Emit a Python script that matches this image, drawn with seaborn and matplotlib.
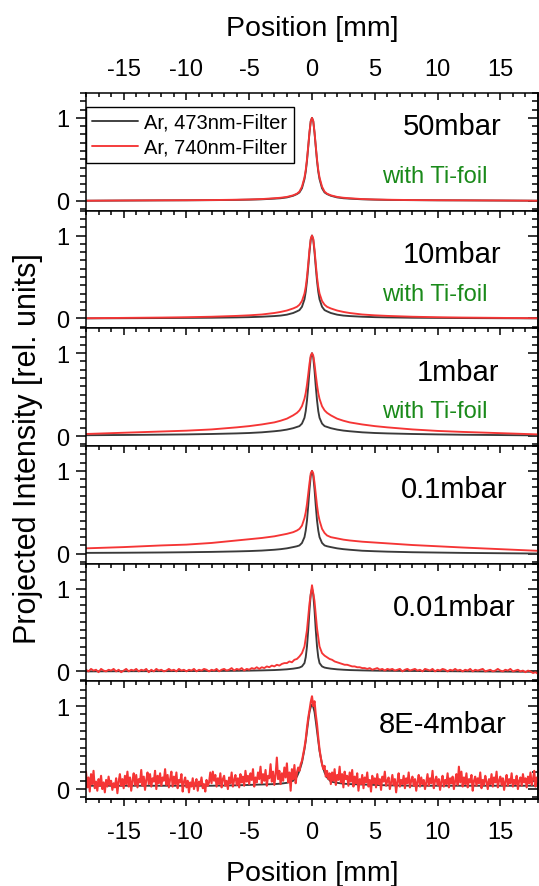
import numpy as np
import pandas as pd
import matplotlib
matplotlib.use("Agg")
import matplotlib.pyplot as plt
from matplotlib.ticker import MultipleLocator, FixedLocator
import seaborn as sns

# ---------------- data ----------------
x_smooth = [-18, -15, -12, -10, -8, -6, -5, -4, -3, -2.5, -2, -1.5, -1.2, -1, -0.8, -0.6, -0.5, -0.4,
            -0.3, -0.2, -0.1, 0, 0.1, 0.2, 0.3, 0.4, 0.5, 0.6, 0.8, 1, 1.2, 1.5, 2, 2.5, 3, 4, 5, 6,
            8, 10, 12, 15, 18]

black_50 = [0.0, 0.002, 0.004, 0.005, 0.007, 0.01, 0.013, 0.017, 0.025, 0.03, 0.04, 0.06, 0.08, 0.1, 0.15,
            0.26, 0.35, 0.48, 0.65, 0.82, 0.96, 1.0, 0.96, 0.82, 0.65, 0.48, 0.35, 0.26, 0.15, 0.1, 0.08,
            0.06, 0.04, 0.03, 0.025, 0.017, 0.013, 0.01, 0.007, 0.005, 0.004, 0.002, 0.0]
red_50 = [0.0, 0.003, 0.005, 0.006, 0.008, 0.012, 0.015, 0.02, 0.03, 0.036, 0.046, 0.065, 0.085, 0.11, 0.17,
          0.28, 0.37, 0.5, 0.66, 0.83, 0.96, 1.0, 0.96, 0.83, 0.66, 0.5, 0.37, 0.28, 0.17, 0.11, 0.085,
          0.065, 0.046, 0.036, 0.03, 0.02, 0.015, 0.012, 0.008, 0.006, 0.005, 0.003, 0.0]

black_10 = [0.0, 0.002, 0.004, 0.006, 0.008, 0.012, 0.015, 0.02, 0.028, 0.034, 0.045, 0.065, 0.085, 0.1, 0.14,
            0.23, 0.32, 0.45, 0.62, 0.8, 0.95, 1.0, 0.95, 0.8, 0.62, 0.45, 0.32, 0.23, 0.14, 0.1, 0.085,
            0.065, 0.045, 0.034, 0.028, 0.02, 0.015, 0.012, 0.008, 0.006, 0.004, 0.002, 0.0]
red_10 = [0.002, 0.006, 0.01, 0.014, 0.02, 0.03, 0.037, 0.047, 0.065, 0.078, 0.095, 0.12, 0.14, 0.165, 0.21,
          0.3, 0.38, 0.5, 0.66, 0.83, 0.96, 1.0, 0.96, 0.83, 0.66, 0.5, 0.38, 0.3, 0.21, 0.165, 0.14,
          0.12, 0.095, 0.078, 0.065, 0.047, 0.037, 0.03, 0.02, 0.014, 0.01, 0.006, 0.002]

black_1 = [0.01, 0.013, 0.017, 0.02, 0.025, 0.032, 0.037, 0.045, 0.058, 0.066, 0.078, 0.095, 0.11, 0.12, 0.15,
           0.22, 0.3, 0.43, 0.6, 0.79, 0.95, 1.0, 0.95, 0.79, 0.6, 0.43, 0.3, 0.22, 0.15, 0.12, 0.11,
           0.095, 0.078, 0.066, 0.058, 0.045, 0.037, 0.032, 0.025, 0.02, 0.016, 0.012, 0.008]
red_1 = [0.025, 0.04, 0.055, 0.065, 0.08, 0.105, 0.12, 0.14, 0.165, 0.185, 0.21, 0.25, 0.28, 0.31, 0.36,
         0.45, 0.52, 0.62, 0.74, 0.87, 0.97, 1.0, 0.97, 0.87, 0.74, 0.62, 0.52, 0.45, 0.36, 0.31, 0.28,
         0.25, 0.21, 0.185, 0.165, 0.14, 0.12, 0.105, 0.08, 0.062, 0.05, 0.035, 0.02]

black_01 = [0.01, 0.012, 0.015, 0.018, 0.022, 0.028, 0.032, 0.038, 0.048, 0.055, 0.065, 0.08, 0.09, 0.1, 0.13,
            0.2, 0.28, 0.4, 0.58, 0.78, 0.94, 1.0, 0.94, 0.78, 0.58, 0.4, 0.28, 0.2, 0.13, 0.1, 0.09,
            0.08, 0.065, 0.055, 0.048, 0.036, 0.03, 0.025, 0.018, 0.014, 0.01, 0.006, 0.002]
red_01 = [0.065, 0.08, 0.1, 0.11, 0.13, 0.16, 0.175, 0.19, 0.21, 0.225, 0.24, 0.26, 0.28, 0.3, 0.34,
          0.43, 0.5, 0.6, 0.73, 0.86, 0.97, 1.0, 0.97, 0.86, 0.72, 0.58, 0.47, 0.4, 0.3, 0.25, 0.22,
          0.2, 0.185, 0.17, 0.16, 0.145, 0.135, 0.125, 0.105, 0.09, 0.075, 0.055, 0.035]

black_001 = [0.0, 0.002, 0.003, 0.004, 0.005, 0.007, 0.009, 0.012, 0.016, 0.02, 0.025, 0.033, 0.04, 0.046, 0.06,
             0.1, 0.17, 0.3, 0.5, 0.74, 0.93, 1.0, 0.93, 0.74, 0.5, 0.3, 0.17, 0.1, 0.06, 0.046, 0.04,
             0.033, 0.025, 0.02, 0.016, 0.012, 0.009, 0.007, 0.005, 0.003, 0.001, -0.002, -0.005]

black_8e4 = [0.04, 0.04, 0.04, 0.04, 0.04, 0.045, 0.05, 0.055, 0.06, 0.065, 0.075, 0.1, 0.15, 0.22, 0.32,
             0.48, 0.58, 0.7, 0.82, 0.93, 0.99, 1.02, 0.99, 0.93, 0.82, 0.7, 0.58, 0.46, 0.3, 0.2, 0.14,
             0.09, 0.075, 0.065, 0.06, 0.055, 0.05, 0.045, 0.04, 0.04, 0.04, 0.04, 0.04]

# noisy 0.01 mbar trace, sampled every 0.2 mm from -18 to 18
x_noisy_02 = np.round(np.arange(-18.0, 18.0001, 0.2), 1)
red_001 = [0.02, 0.0, 0.03, 0.01, 0.02, -0.01, 0.03, 0.01, 0.0, 0.02,
           0.01, 0.03, 0.0, 0.02, -0.01, 0.01, 0.03, 0.0, 0.02, 0.01,
           0.03, 0.0, 0.02, 0.01, 0.03, -0.01, 0.02, 0.0, 0.03, 0.01,
           0.02, 0.0, 0.01, 0.03, 0.01, 0.02, 0.0, 0.03, 0.01, 0.02,
           0.0, 0.02, 0.01, 0.03, 0.0, 0.02, 0.01, 0.03, 0.02, 0.0,
           0.02, 0.01, 0.03, 0.0, 0.02, 0.03, 0.01, 0.02, 0.04, 0.01,
           0.03, 0.02, 0.04, 0.01, 0.03, 0.02, 0.04, 0.03, 0.05, 0.03,
           0.05, 0.04, 0.06, 0.05, 0.07, 0.06, 0.08, 0.07, 0.09, 0.1,
           0.1, 0.12, 0.11, 0.14, 0.15, 0.18, 0.22, 0.3, 0.5, 0.82,
           1.04,
           0.85, 0.52, 0.3, 0.22, 0.19, 0.17, 0.15, 0.14, 0.12, 0.11,
           0.1, 0.09, 0.08, 0.08, 0.07, 0.06, 0.06, 0.05, 0.05, 0.04,
           0.04, 0.03, 0.04, 0.02, 0.03, 0.04, 0.02, 0.03, 0.01, 0.03,
           0.02, 0.03, 0.01, 0.02, 0.03, 0.0, 0.02, 0.03, 0.01, 0.02,
           0.03, 0.01, 0.02, 0.0, 0.03, 0.02, 0.01, 0.03, 0.0, 0.02,
           0.01, 0.03, 0.02, 0.0, 0.02, 0.01, 0.03, 0.01, 0.02, 0.0,
           0.02, 0.01, 0.03, 0.0, 0.02, 0.01, 0.02, 0.03, 0.0, 0.01,
           0.02, 0.0, 0.01, 0.03, 0.01, 0.0, 0.02, 0.01, 0.03, 0.0,
           0.01, 0.02, 0.0, 0.01, -0.01, 0.01, 0.0, -0.02, -0.01, -0.03]

# noisy 8E-4 mbar trace, sampled every 0.1 mm from -18 to 18
x_noisy_01 = np.round(np.arange(-18.0, 18.0001, 0.1), 1)
red_8e4 = [0.21, 0.02, 0.14, -0.03, 0.18, 0.06, 0.22, 0.01, 0.09, -0.02,
           0.12, 0.04, 0.16, 0.0, 0.08, -0.04, 0.11, 0.03, 0.15, 0.05,
           0.1, -0.01, 0.07, 0.02, 0.13, -0.05, 0.09, 0.18, 0.04, 0.12,
           0.01, 0.16, 0.06, 0.21, 0.03, 0.14, -0.02, 0.1, 0.19, 0.05,
           0.17, 0.02, 0.12, 0.08, 0.23, 0.04, 0.15, -0.01, 0.11, 0.2,
           0.06, 0.18, 0.03, 0.13, 0.09, 0.22, 0.0, 0.16, 0.07, 0.19,
           0.04, 0.14, 0.1, 0.24, 0.05, 0.17, 0.02, 0.12, 0.21, 0.03,
           0.15, 0.06, 0.2, 0.01, 0.11, 0.08, 0.18, -0.03, 0.09, 0.14,
           0.02, 0.1, -0.04, 0.08, 0.03, 0.13, 0.0, 0.07, 0.12, -0.02,
           0.09, 0.05, 0.14, 0.01, 0.06, -0.03, 0.11, 0.04, 0.08, 0.2,
           0.07, 0.21, 0.1, 0.17, 0.03, 0.13, 0.06, 0.19, 0.02, 0.12,
           0.16, 0.04, 0.1, 0.0, 0.14, 0.07, 0.2, 0.03, 0.11, 0.17,
           0.05, 0.13, 0.02, 0.18, 0.08, 0.15, 0.04, 0.22, 0.09, 0.16,
           0.06, 0.19, 0.11, 0.24, 0.03, 0.14, 0.08, 0.2, 0.12, 0.27,
           0.07, 0.18, 0.1, 0.23, 0.04, 0.16, 0.13, 0.3, 0.09, 0.21,
           0.05, 0.17, 0.38, 0.12, 0.22, 0.06, 0.19, 0.1, 0.26, 0.14,
           0.31, 0.08, 0.2, -0.02, 0.24, 0.12, 0.29, 0.07, 0.2, 0.26,
           0.22, 0.3, 0.34, 0.42, 0.5, 0.6, 0.74, 0.86, 0.95, 1.05,
           1.12,
           1.0, 1.06, 0.9, 0.78, 0.62, 0.48, 0.38, 0.3, 0.24, 0.28,
           0.15, 0.22, 0.12, 0.19, 0.06, 0.2, 0.1, 0.24, 0.05, 0.17,
           0.11, 0.27, 0.08, 0.18, 0.02, 0.21, 0.12, 0.16, 0.04, 0.2,
           0.09, 0.23, 0.03, 0.15, 0.07, 0.19, -0.02, 0.12, 0.06, 0.17,
           0.01, 0.14, 0.08, 0.2, 0.03, 0.11, -0.03, 0.16, 0.07, 0.13,
           0.02, 0.18, 0.06, 0.12, -0.01, 0.15, 0.09, 0.21, 0.04, 0.1,
           0.14, 0.0, 0.08, 0.17, 0.05, 0.12, -0.04, 0.09, 0.19, 0.03,
           0.11, 0.06, 0.16, 0.01, 0.13, 0.07, 0.2, 0.02, 0.1, 0.15,
           0.04, 0.12, -0.02, 0.09, 0.17, 0.03, 0.14, 0.06, 0.11, 0.0,
           0.08, 0.18, 0.04, 0.13, 0.07, 0.22, 0.01, 0.1, 0.15, 0.05,
           0.12, -0.01, 0.09, 0.16, 0.03, 0.11, 0.06, 0.19, 0.02, 0.13,
           0.07, 0.15, 0.0, 0.1, 0.18, 0.05, 0.27, 0.08, 0.21, 0.03,
           0.14, 0.06, 0.19, 0.02, 0.12, 0.08, 0.17, -0.02, 0.1, 0.15,
           0.04, 0.13, 0.07, 0.2, 0.01, 0.11, 0.05, 0.16, 0.09, 0.0,
           0.12, 0.06, 0.18, 0.03, 0.14, 0.08, 0.21, 0.02, 0.1, 0.15,
           0.05, 0.13, -0.01, 0.09, 0.17, 0.04, 0.12, 0.07, 0.19, 0.03,
           0.11, 0.06, 0.16, 0.0, 0.1, 0.14, 0.04, 0.18, 0.08, 0.13,
           0.02, 0.15, 0.07, 0.2, 0.05, 0.12, 0.22, 0.03, 0.14, 0.09]

pressures = ["50mbar", "10mbar", "1mbar", "0.1mbar", "0.01mbar", "8E-4mbar"]
foil_note = [True, True, True, False, False, False]
black_series = [(x_smooth, black_50), (x_smooth, black_10), (x_smooth, black_1),
                (x_smooth, black_01), (x_smooth, black_001), (x_smooth, black_8e4)]
red_series = [(x_smooth, red_50), (x_smooth, red_10), (x_smooth, red_1),
              (x_smooth, red_01), (x_noisy_02, red_001), (x_noisy_01, red_8e4)]
legend_labels = ["Ar, 473nm-Filter", "Ar, 740nm-Filter"]
label_xpos = [15.1, 15.1, 14.9, 15.6, 16.2, 15.5]
label_ypos = [0.9, 0.78, 0.77, 0.78, 0.78, 0.78]
major_xticks = [-15, -10, -5, 0, 5, 10, 15]
minor_xticks = list(range(-18, 19))

# ---------------- style ----------------
sns.set_style("ticks")
plt.rcParams["font.family"] = ["Liberation Sans", "DejaVu Sans"]
plt.rcParams["axes.linewidth"] = 1.1
plt.rcParams["axes.unicode_minus"] = False
for key in ["text.color", "axes.labelcolor", "xtick.color", "ytick.color", "axes.edgecolor"]:
    plt.rcParams[key] = "black"

BLACK = "#3a3a3a"
RED = "#f53535"
GREEN = "#1a8a1a"

fig = plt.figure(figsize=(5.39, 8.87), dpi=100)
axes = fig.subplots(6, 1, sharex=False, gridspec_kw={"hspace": 0})
fig.subplots_adjust(left=86 / 539, right=538 / 539, top=1 - 94 / 887, bottom=1 - 800 / 887)

for i, ax in enumerate(axes):
    bx, by = black_series[i]
    rx, ry = red_series[i]
    dfb = pd.DataFrame({"x": bx, "y": by})
    dfr = pd.DataFrame({"x": rx, "y": ry})
    lw_red = 1.5 if i == 5 else 1.35
    if i == 0:
        sns.lineplot(data=dfb, x="x", y="y", ax=ax, color=BLACK, linewidth=1.35,
                     estimator=None, sort=False, label=legend_labels[0])
        sns.lineplot(data=dfr, x="x", y="y", ax=ax, color=RED, linewidth=lw_red,
                     estimator=None, sort=False, label=legend_labels[1])
    else:
        sns.lineplot(data=dfb, x="x", y="y", ax=ax, color=BLACK, linewidth=1.35,
                     estimator=None, sort=False, legend=False)
        sns.lineplot(data=dfr, x="x", y="y", ax=ax, color=RED, linewidth=lw_red,
                     estimator=None, sort=False, legend=False)

    ax.set_xlim(-18, 18)
    ax.set_ylim(-0.12, 1.3)
    ax.set_xlabel("")
    ax.set_ylabel("")
    ax.xaxis.set_major_locator(FixedLocator(major_xticks))
    ax.xaxis.set_minor_locator(FixedLocator(minor_xticks))
    ax.set_yticks([0, 1])
    ax.set_yticklabels(["0", "1"])
    ax.yaxis.set_minor_locator(MultipleLocator(0.1))
    ax.tick_params(axis="x", which="both", bottom=False, top=True, direction="in",
                   labelbottom=False, labeltop=False, width=1.1)
    ax.tick_params(axis="x", which="major", length=5)
    ax.tick_params(axis="x", which="minor", length=3)
    ax.tick_params(axis="y", which="both", left=True, right=False, direction="out",
                   labelsize=17, width=1.1, pad=5)
    ax.tick_params(axis="y", which="major", length=7)
    ax.tick_params(axis="y", which="minor", length=4)
    for s in ax.spines.values():
        s.set_visible(True)
        s.set_color("black")

    sec = ax.secondary_yaxis("right")
    sec.set_yticks([0, 1])
    sec.yaxis.set_minor_locator(MultipleLocator(0.1))
    sec.tick_params(axis="y", which="both", direction="in", labelright=False, width=1.1)
    sec.tick_params(axis="y", which="major", length=7)
    sec.tick_params(axis="y", which="minor", length=4)

    ax.text(label_xpos[i], label_ypos[i], pressures[i], ha="right", va="center",
            fontsize=21, color="black")
    if foil_note[i]:
        ax.text(14.0, 0.30, "with Ti-foil", ha="right", va="center", fontsize=17, color=GREEN)

# top axis tick labels and title
top = axes[0]
top.tick_params(axis="x", which="both", labeltop=True, labelsize=17, pad=9)
fig.text(312 / 539, 1 - 29 / 887, "Position [mm]", ha="center", va="center", fontsize=20.5)
top.legend(loc="upper left", bbox_to_anchor=(0.0, 0.885), frameon=True, fancybox=False,
           edgecolor="black", framealpha=1, fontsize=14.5, borderaxespad=0,
           handlelength=2.3, handletextpad=0.3, borderpad=0.3, labelspacing=0.3)
top.get_legend().get_frame().set_linewidth(1.0)

# bottom axis with outward ticks
bot = axes[-1]
secx = bot.secondary_xaxis("bottom")
secx.xaxis.set_major_locator(FixedLocator(major_xticks))
secx.xaxis.set_minor_locator(FixedLocator(minor_xticks))
secx.tick_params(axis="x", which="both", direction="out", labelsize=17, width=1.1, pad=11)
secx.tick_params(axis="x", which="major", length=5)
secx.tick_params(axis="x", which="minor", length=3)
secx.set_xlabel("Position [mm]", fontsize=20.5, labelpad=12)

fig.text(28 / 539, 1 - 449 / 887, "Projected Intensity [rel. units]", rotation=90,
         ha="center", va="center", fontsize=22)

fig.savefig("out.png", dpi=100)
